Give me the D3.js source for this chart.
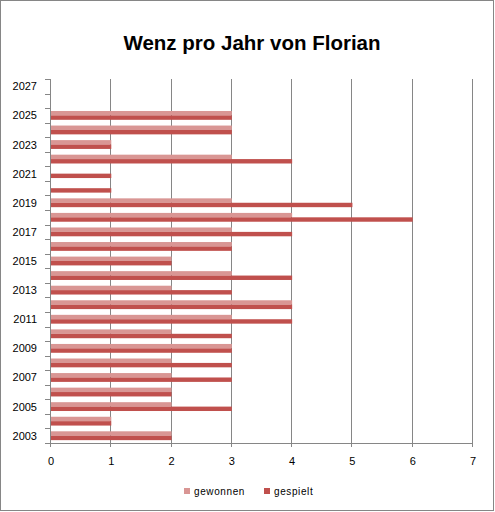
<!DOCTYPE html>
<html>
<head>
<meta charset="utf-8">
<script src="https://cdn.jsdelivr.net/npm/d3@7"></script>
<style>
  body { margin: 0; background: #fff; }
  text { font-family: "Liberation Sans", Arial, sans-serif; }
</style>
</head>
<body>
<div id="chart"></div>
<script>
// data
let years = d3.range(2003, 2028);
let gewonnen = [2, 1, 2, 2, 2, 2, 3, 2, 3, 4, 2, 3, 2, 3, 3, 4, 3, 0, 0, 3, 1, 3, 3, 0, 0];
let gespielt = [2, 1, 3, 2, 3, 3, 3, 3, 4, 4, 3, 4, 2, 3, 4, 6, 5, 1, 1, 4, 1, 3, 3, 0, 0];
let yearLabels = d3.range(2003, 2028, 2);
let xTicks = d3.range(0, 8);
let seriesNames = ["gewonnen", "gespielt"];
let colors = ["#d99694", "#c0504d"];

let W = 495, H = 512;
let margin = {top: 79, right: 23, bottom: 69, left: 50};
let width = W - margin.left - margin.right,
    height = H - margin.top - margin.bottom;

let svg = d3.select("#chart").append("svg")
    .attr("width", W)
    .attr("height", H);

// outer frame
svg.append("rect")
    .attr("x", 0.5).attr("y", 0.5)
    .attr("width", W - 2).attr("height", H - 2)
    .attr("fill", "#fff")
    .attr("stroke", "#868686");

svg.append("text")
    .attr("x", 252).attr("y", 50)
    .attr("text-anchor", "middle")
    .attr("font-size", 20.5)
    .attr("font-weight", "bold")
    .attr("fill", "#000")
    .text("Wenz pro Jahr von Florian");

let g = svg.append("g")
    .attr("transform", "translate(" + margin.left + "," + margin.top + ")");

let x = d3.scaleLinear()
    .domain([0, 7])
    .range([0, width]);

let y = d3.scaleBand()
    .domain(years.slice().reverse())
    .range([0, height]);

let inner = d3.scaleBand()
    .domain(seriesNames)
    .range([0, y.bandwidth()])
    .paddingInner(0)
    .paddingOuter(0.65);

// vertical gridlines
g.selectAll(".grid")
    .data(xTicks)
    .enter().append("line")
    .attr("class", "grid")
    .attr("x1", d => Math.round(x(d)) + 0.5)
    .attr("x2", d => Math.round(x(d)) + 0.5)
    .attr("y1", 0)
    .attr("y2", height + 4)
    .attr("stroke", "#868686");

// bars
let rows = years.map((yr, i) => ({year: yr, vals: [gewonnen[i], gespielt[i]]}));

let groups = g.selectAll(".row")
    .data(rows)
    .enter().append("g")
    .attr("class", "row")
    .attr("transform", d => "translate(0," + y(d.year) + ")");

groups.selectAll("rect")
    .data(d => d.vals.map((v, j) => ({name: seriesNames[j], value: v, color: colors[j]})))
    .enter().append("rect")
    .attr("x", x(0) + 1)
    .attr("y", d => inner(d.name))
    .attr("width", d => Math.max(0, x(d.value) - x(0)))
    .attr("height", inner.bandwidth())
    .attr("fill", d => d.color);

// x axis
let xAxisGroup = g.append("g")
    .attr("transform", "translate(0," + height + ")");
xAxisGroup.append("line")
    .attr("x1", 0).attr("x2", width + 1)
    .attr("y1", 0.5).attr("y2", 0.5)
    .attr("stroke", "#868686");
xAxisGroup.selectAll("text")
    .data(xTicks)
    .enter().append("text")
    .attr("x", d => x(d) + 1)
    .attr("y", 22)
    .attr("text-anchor", "middle")
    .attr("font-size", 11)
    .attr("fill", "#000")
    .text(d => d);

// y axis
let yAxisGroup = g.append("g");
yAxisGroup.append("line")
    .attr("x1", 0.5).attr("x2", 0.5)
    .attr("y1", 0).attr("y2", height)
    .attr("stroke", "#868686");
yAxisGroup.selectAll(".ytick")
    .data(years.concat([years[years.length - 1] + 1]))
    .enter().append("line")
    .attr("class", "ytick")
    .attr("x1", -5).attr("x2", 0)
    .attr("y1", (d, i) => Math.round(height - i * y.step()) + 0.5)
    .attr("y2", (d, i) => Math.round(height - i * y.step()) + 0.5)
    .attr("stroke", "#868686");
yAxisGroup.selectAll("text")
    .data(yearLabels)
    .enter().append("text")
    .attr("x", -13)
    .attr("y", d => y(d) + y.bandwidth() / 2 + 4)
    .attr("text-anchor", "end")
    .attr("font-size", 11)
    .attr("fill", "#000")
    .text(d => d);

// legend
let legend = svg.append("g")
    .attr("transform", "translate(184,488)");
let lx = [0, 80];
seriesNames.forEach((name, i) => {
    legend.append("rect")
        .attr("x", lx[i]).attr("y", 0)
        .attr("width", 6).attr("height", 6)
        .attr("fill", colors[i]);
    legend.append("text")
        .attr("x", lx[i] + 10).attr("y", 7)
        .attr("font-size", 10)
        .attr("letter-spacing", 0.6)
        .attr("fill", "#000")
        .text(name);
});
</script>
</body>
</html>
